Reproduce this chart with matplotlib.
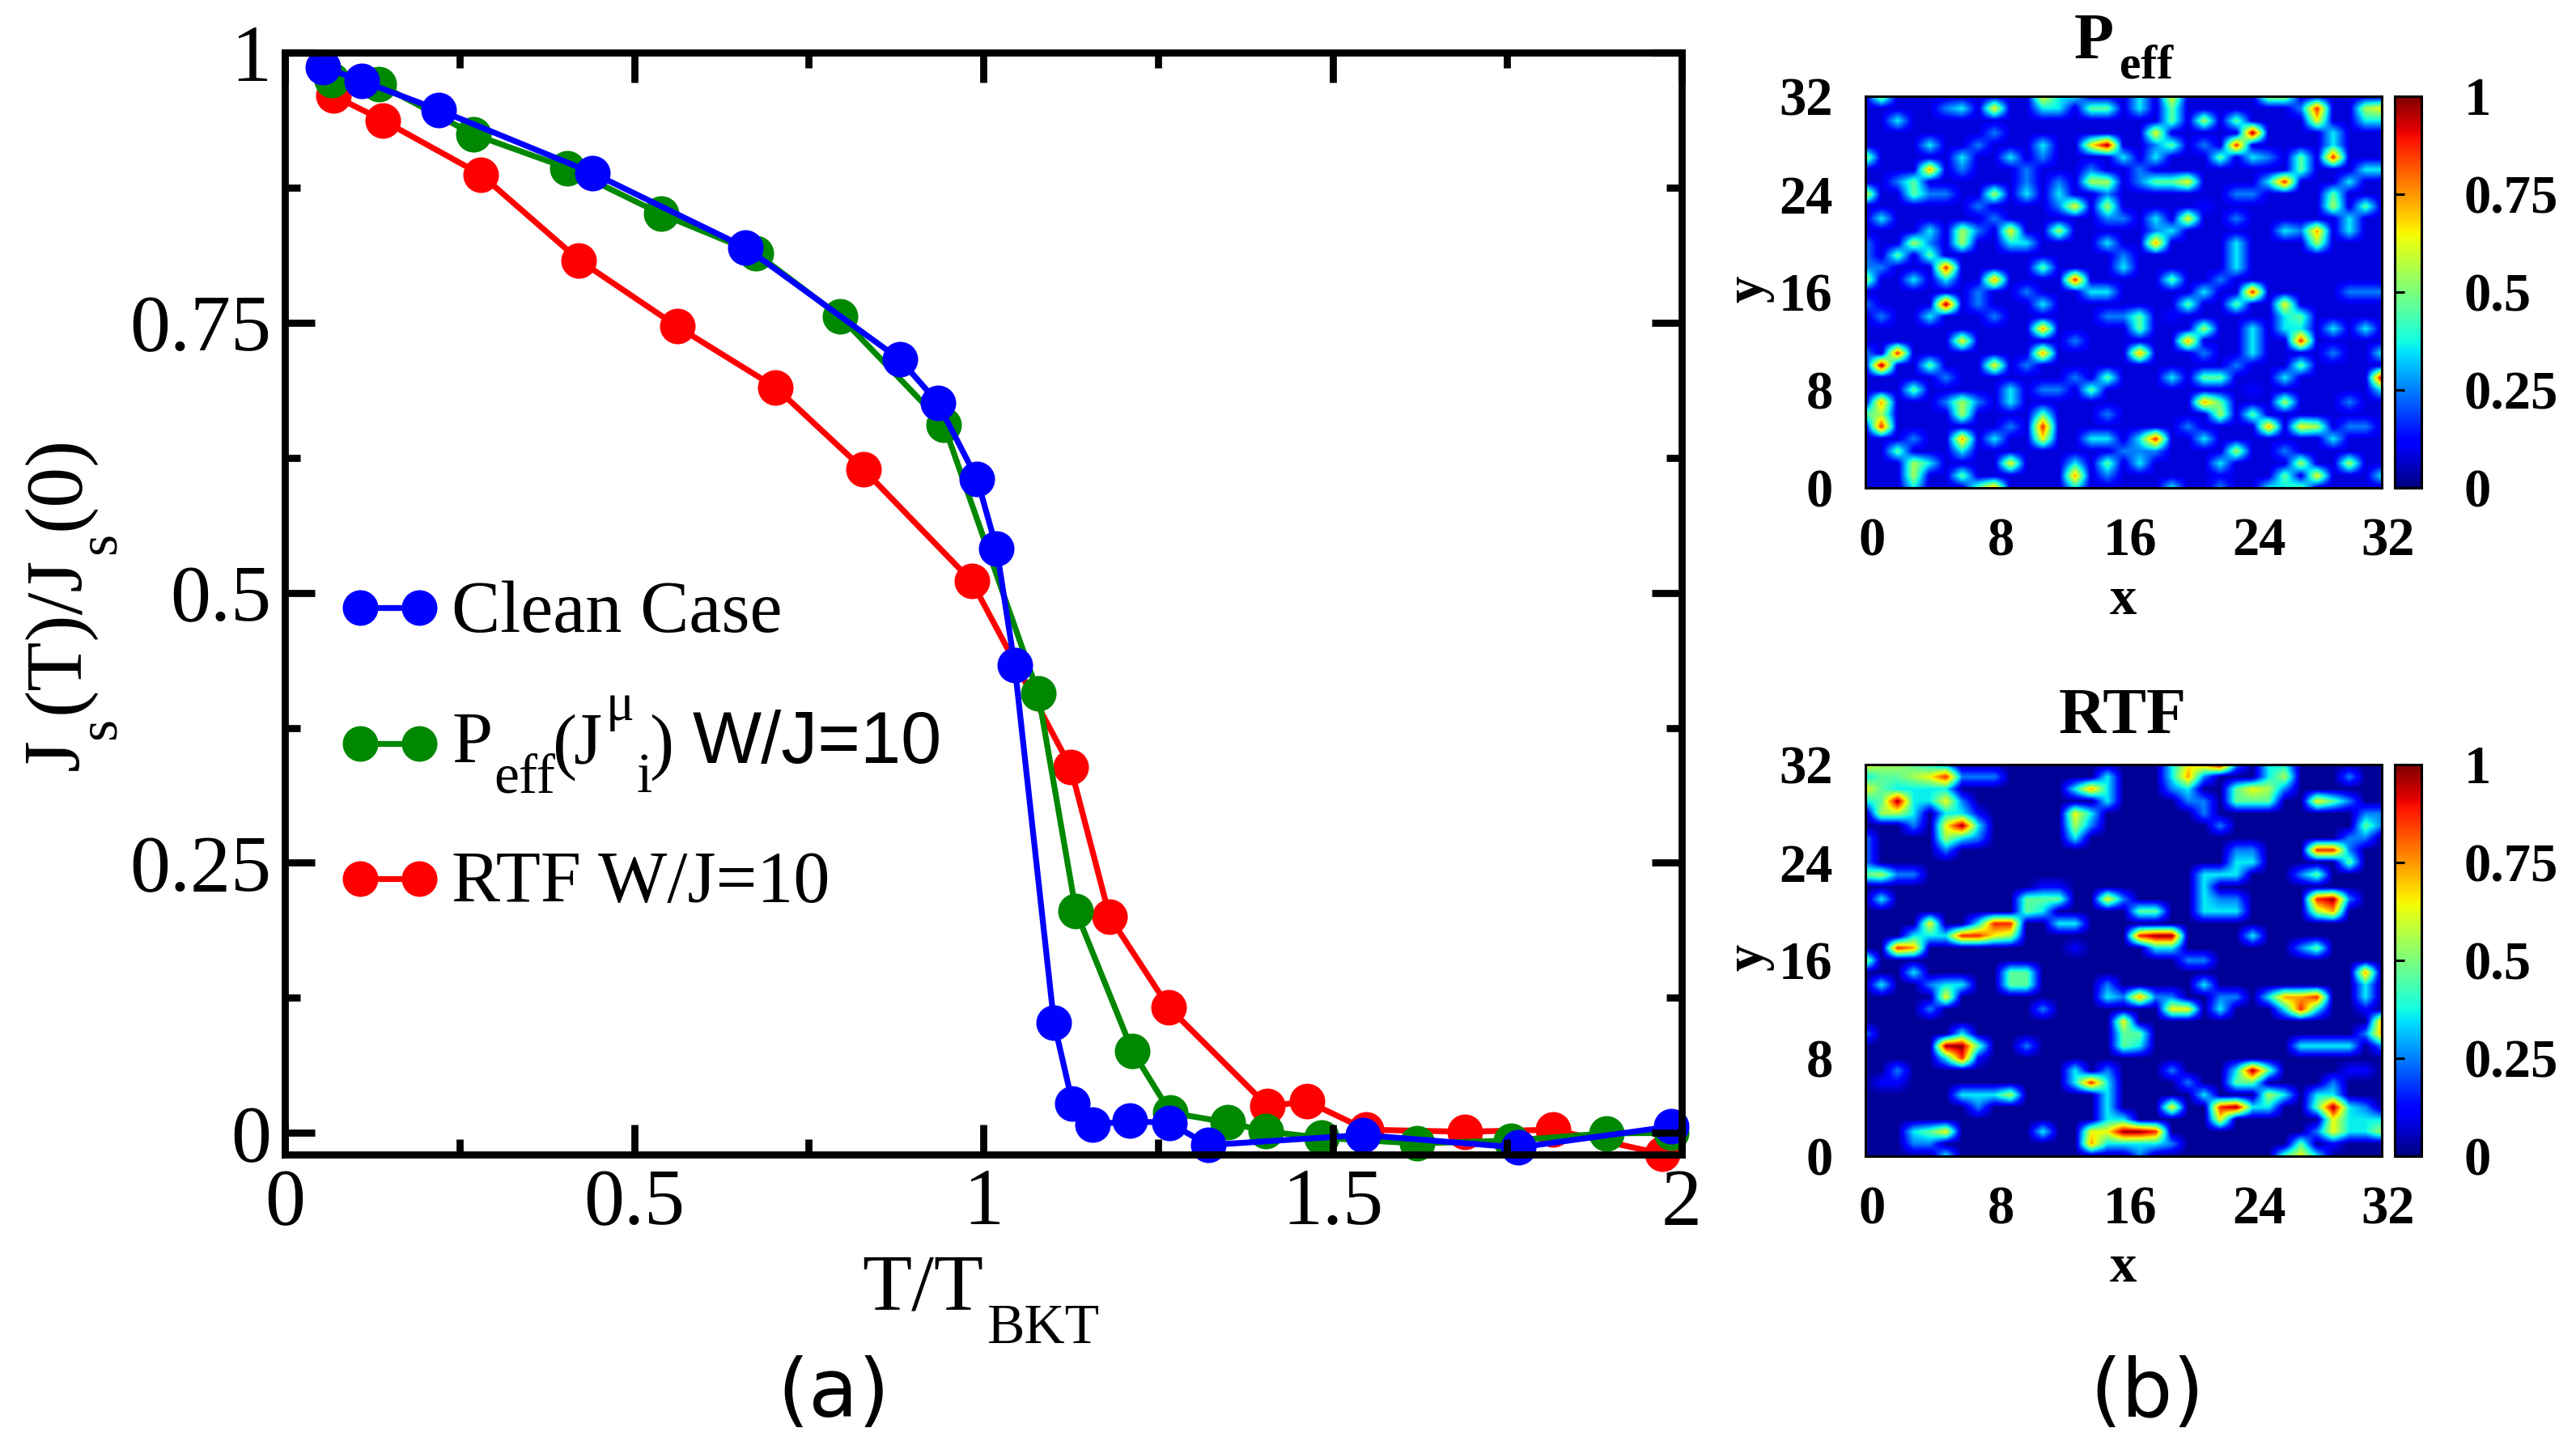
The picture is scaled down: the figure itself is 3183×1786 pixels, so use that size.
"""Superfluid stiffness vs T/T_BKT (a) and local maps of P_eff and RTF (b)."""
import numpy as np
import matplotlib
matplotlib.use("Agg")
import matplotlib.pyplot as plt
from matplotlib.ticker import FixedLocator, FixedFormatter
from matplotlib.transforms import ScaledTranslation

plt.rcParams["font.family"] = ["Liberation Serif", "DejaVu Sans"]

clean_x = [.0544, .1097, .2197, .4401, .6590, .8810, .9346, .9913, 1.0191, 1.0449,
           1.1013, 1.1280, 1.1569, 1.2102, 1.2669, 1.3225, 1.5437, 1.7661, 1.9850]
clean_y = [.9868, .9738, .9471, .8887, .8198, .7158, .6761, .6050, .5406, .4329,
           .1018, .0269, .0075, .0112, .0090, -.0112, -.0019, -.0135, .0060]
peff_x = [.0672, .1347, .2698, .4042, .5388, .6740, .7952, .9435, 1.0785, 1.1326,
          1.2137, 1.2681, 1.3503, 1.4047, 1.4846, 1.6213, 1.7556, 1.8923, 1.985]
peff_y = [.9746, .9708, .9244, .8932, .8506, .8146, .7555, .6557, .4072, .2053,
          .0756, .0187, .0097, .0015, -.0045, -.0097, -.007, -.0004, 0.0]
rtf_x = [.0695, .1401, .2806, .4212, .5617, .7026, .8288, .9832, 1.1249, 1.1809,
         1.2658, 1.4071, 1.4638, 1.5483, 1.6896, 1.8159, 1.9722]
rtf_y = [.9603, .9374, .8872, .8079, .7465, .6901, .6140, .5108, .3386, .2001,
         .1160, .0247, .0292, .0030, .0011, .0030, -.0195]

x_major = [0, .5, 1, 1.5, 2]
x_minor = [.25, .75, 1.25, 1.75]
x_labels = ["0", "0.5", "1", "1.5", "2"]
y_major = [0, .25, .5, .75, 1]
y_minor = [.125, .375, .625, .875]
y_labels = ["0", "0.25", "0.5", "0.75", "1"]
map_ticks = [0, 8, 16, 24, 32]
bar_ticks = [0, .25, .5, .75, 1]
bar_labels = ["0", "0.25", "0.5", "0.75", "1"]

# colour classes -> value on the jet bar:
# navy, blue, azure, cyan, teal, yellow-green, yellow, orange, red, dark red
LEVEL_VALUES = [0.0, 0.12, 0.25, 0.36, 0.46, 0.55, 0.64, 0.74, 0.87, 0.98]

# maps: for each row from y=32 down to y=0, (column, colour class)
P_EFF_LEVELS = [
    [(1,5),(11,6),(12,3),(13,3),(17,3),(19,6),(25,5),(26,5)],
    [(5,2),(6,3),(8,6),(11,3),(12,3),(14,4),(15,4),(17,3),(19,4),(27,2),(28,8),(31,5),(32,6)],
    [(2,3),(19,4),(21,5),(23,4),(28,6),(31,3),(32,3)],
    [(8,2),(18,6),(24,9),(29,3)],
    [(4,3),(7,2),(11,3),(14,6),(15,9),(18,2),(19,4),(21,2),(23,8),(29,3)],
    [(0,5),(6,3),(9,3),(11,2),(16,3),(18,3),(22,4),(24,3),(25,2),(27,4),(29,8)],
    [(4,7),(6,2),(10,2),(14,2),(17,2),(27,4),(31,3),(32,3)],
    [(2,2),(3,4),(10,2),(12,2),(14,5),(15,5),(17,2),(18,4),(19,4),(20,6),(25,3),(26,8),(30,3)],
    [(0,6),(3,4),(4,2),(5,2),(8,5),(10,3),(12,3),(15,2),(23,2),(24,2),(29,4)],
    [(7,2),(12,2),(13,6),(15,5),(21,1),(29,5),(31,4)],
    [(1,3),(8,2),(15,2),(16,2),(18,3),(20,6),(23,2),(30,3)],
    [(4,3),(6,5),(7,2),(9,6),(12,5),(18,2),(19,3),(26,3),(27,2),(28,7),(30,3)],
    [(0,2),(3,5),(4,2),(6,5),(9,3),(10,3),(15,3),(18,7),(23,3),(28,5)],
    [(0,2),(2,4),(4,4),(16,2),(23,3)],
    [(0,2),(1,2),(5,8),(11,4),(16,3),(23,3)],
    [(0,5),(3,3),(5,3),(8,7),(13,8),(19,4),(22,2)],
    [(7,2),(10,2),(14,3),(15,3),(21,3),(24,8),(30,2),(31,2),(32,2)],
    [(0,2),(5,9),(7,2),(11,3),(20,4),(23,4),(26,6)],
    [(1,2),(4,3),(8,2),(15,2),(16,2),(17,4),(19,1),(26,3),(27,4)],
    [(11,7),(17,4),(21,5),(24,3),(26,3),(27,3),(29,3),(31,3)],
    [(6,6),(13,2),(20,7),(24,3),(27,8)],
    [(0,2),(2,8),(11,7),(17,7),(21,2),(24,3),(29,2),(32,3)],
    [(1,9),(4,4),(8,6),(10,2),(23,2),(27,4)],
    [(5,2),(13,2),(15,4),(19,3),(21,4),(22,4),(26,3),(32,9)],
    [(3,4),(9,3),(11,2),(12,2),(14,4),(24,1),(32,3)],
    [(1,7),(5,2),(6,5),(7,2),(9,3),(21,7),(22,4),(26,5),(30,2)],
    [(0,4),(1,5),(6,5),(11,4),(15,2),(22,5),(24,4)],
    [(1,8),(9,2),(11,8),(20,2),(25,7),(27,6),(28,5),(30,2),(31,2)],
    [(3,2),(6,7),(8,3),(11,6),(14,3),(15,3),(17,3),(18,8),(21,3),(29,3)],
    [(2,4),(6,3),(16,2),(17,2),(18,2),(23,5),(26,2)],
    [(3,5),(4,3),(9,6),(13,3),(15,4),(17,3),(22,3),(27,5),(30,5)],
    [(3,5),(6,4),(13,7),(15,2),(22,1),(26,4),(28,6),(32,3)],
    [(3,3),(7,4),(8,7),(13,3),(19,3),(22,2),(25,3),(26,3),(27,4)],
]
RTF_LEVELS = [
    [(0,6),(1,5),(2,5),(3,4),(4,3),(5,2),(19,3),(20,6),(21,7),(22,9),(23,2),(25,3),(26,3)],
    [(0,3),(1,4),(2,4),(3,5),(4,6),(5,8),(6,2),(7,2),(8,2),(15,3),(19,3),(20,7),(21,2),(25,3),(26,5),(30,2)],
    [(0,6),(1,4),(2,3),(3,3),(4,3),(5,3),(13,3),(14,7),(15,3),(19,2),(20,3),(23,4),(24,6),(25,5),(26,2)],
    [(0,3),(1,4),(2,9),(3,3),(4,3),(5,6),(6,2),(15,3),(20,2),(21,2),(23,4),(24,4),(25,4),(28,6),(29,4),(30,2)],
    [(1,5),(2,5),(3,3),(5,3),(6,3),(7,1),(13,6),(14,3),(21,2),(31,2),(32,2)],
    [(3,2),(5,6),(6,9),(7,3),(13,5),(14,2),(22,2),(31,4),(32,2)],
    [(0,2),(5,5),(6,3),(7,2),(13,3),(30,2),(31,2)],
    [(0,2),(5,2),(23,2),(24,2),(28,8),(29,8),(30,2)],
    [(0,2),(23,3),(24,3),(30,4)],
    [(0,4),(1,5),(2,2),(3,2),(21,3),(22,3),(23,3),(27,2),(28,4)],
    [(11,1),(12,1),(21,3)],
    [(1,3),(10,4),(11,4),(12,4),(15,6),(16,2),(21,3),(22,2),(23,2),(28,8),(29,9),(30,2)],
    [(10,4),(11,3),(17,4),(18,4),(21,3),(22,3),(23,3),(28,5),(29,7)],
    [(4,6),(7,3),(8,8),(9,8),(12,3),(13,3)],
    [(3,3),(4,3),(5,3),(6,8),(7,8),(8,6),(9,5),(17,8),(18,9),(19,9),(24,3)],
    [(2,8),(3,7),(13,1),(18,3),(19,3),(27,2),(28,4)],
    [(0,5),(20,2),(21,2)],
    [(3,3),(9,4),(10,4),(31,7)],
    [(1,3),(4,2),(5,3),(6,3),(9,4),(10,4),(15,2),(21,3),(31,3)],
    [(5,6),(15,3),(16,2),(17,7),(18,2),(19,2),(22,2),(23,2),(25,3),(26,7),(27,7),(28,8),(31,3)],
    [(4,2),(11,2),(19,6),(20,6),(22,3),(26,3),(27,8),(28,3),(31,1)],
    [(16,6),(32,7)],
    [(0,2),(6,3),(16,4),(17,4),(31,2),(32,7)],
    [(5,9),(6,9),(7,4),(10,2),(16,4),(17,3),(27,3),(28,3),(29,3),(30,3),(32,2)],
    [(5,3),(6,8),(7,1)],
    [(2,2),(13,3),(15,2),(19,2),(23,3),(24,9),(25,4),(30,1),(31,1)],
    [(1,1),(2,1),(13,3),(14,8),(15,3),(20,2),(23,4),(24,4),(29,2)],
    [(6,3),(7,3),(8,3),(9,5),(15,3),(21,3),(25,5),(26,3),(28,3),(29,3)],
    [(7,2),(15,3),(19,6),(22,8),(23,9),(24,3),(25,3),(28,4),(29,9),(30,3),(31,2)],
    [(15,3),(16,3),(22,6),(29,6),(30,3),(31,3),(32,3)],
    [(3,3),(4,4),(5,6),(11,3),(14,6),(15,6),(16,9),(17,9),(18,8),(28,2),(29,6),(30,3),(31,3),(32,5)],
    [(3,2),(4,2),(14,7),(15,3),(16,3),(17,3),(18,3),(19,2),(27,4),(29,1)],
    [(5,3),(17,2),(26,4),(27,6),(28,3)],
]
P_EFF_BACKGROUND = 0.08
RTF_BACKGROUND = 0.02

W, H = 3183, 1786


def px_axes(fig, left, top, right, bottom):
    return fig.add_axes([left / W, 1 - bottom / H, (right - left) / W, (bottom - top) / H])


def levels_to_grid(rows, background):
    grid = np.full((33, 33), background)
    for r, row in enumerate(rows):
        for c, level in row:
            grid[r, c] = LEVEL_VALUES[level]
    return grid


def put(x, y, s, size, rotation=0, **kw):
    # text with its baseline start at a pixel position, for the hand-set sub/superscripts
    fig.text(x / W, 1 - y / H, s, fontsize=size, ha="left", va="baseline",
             rotation=rotation, rotation_mode="anchor", **kw)


fig = plt.figure(figsize=(W / 100, H / 100), dpi=100)

# (a)
ax = px_axes(fig, 352, 65, 2078, 1427)
lw, ms = 5.2, 31.7
ax.plot(rtf_x, rtf_y, "-o", color="#ff0000", lw=lw, ms=ms, mew=0, clip_on=False)
ax.plot(peff_x, peff_y, "-o", color="#008800", lw=lw, ms=ms, mew=0, clip_on=False)
ax.plot(clean_x, clean_y, "-o", color="#0000ff", lw=lw, ms=ms, mew=0, clip_on=False)
ax.set_xlim(0, 2)
ax.set_ylim(-0.02, 1)
ax.set_axisbelow(False)
ax.xaxis.set_major_locator(FixedLocator(x_major))
ax.xaxis.set_major_formatter(FixedFormatter(x_labels))
ax.xaxis.set_minor_locator(FixedLocator(x_minor))
ax.yaxis.set_major_locator(FixedLocator(y_major))
ax.yaxis.set_major_formatter(FixedFormatter(y_labels))
ax.yaxis.set_minor_locator(FixedLocator(y_minor))
ax.tick_params(which="major", direction="in", length=26.6, width=6.3, top=True, right=True,
               labelsize=72, pad=12)
ax.tick_params(which="minor", direction="in", length=13.9, width=6.3, top=True, right=True)
for s in ax.spines.values():
    s.set_linewidth(6.3)

# axis titles, with the low subscripts of the original
put(1065, 1619, "T/T", 72)
put(1220, 1660, "BKT", 50)
put(96, 952, "J", 72, rotation=90)
put(142, 914, "s", 50, rotation=90)
put(96, 882, "(T)/J", 72, rotation=90)
put(142, 685, "s", 50, rotation=90)
put(96, 655, "(0)", 72, rotation=90)

# legend keys; the entries are set by hand because of the subscripts
lines = ax.get_lines()
leg = ax.legend([lines[2], lines[1], lines[0]], ["", "", ""], loc="center left",
                bbox_to_anchor=((418 - 352) / (2078 - 352), 1 - (928 - 65) / (1427 - 65)),
                frameon=False, fontsize=65, numpoints=2, handlelength=1.41, handletextpad=0,
                labelspacing=0.945, borderpad=0, borderaxespad=0)
put(558, 781, "Clean Case", 65)
put(558, 943, "P", 65)
put(610, 979, "eff", 50)
put(683, 946, "(", 65)
put(708, 943, "J", 65)
put(749, 890, "\u03bc", 47)
put(786, 979, "i", 50)
put(802, 946, ")", 65)
put(856, 943, "W/J=10", 65, family="Liberation Sans")
put(558, 1115, "RTF W/J=10", 65)

fig.text(1030 / W, 1 - 1724 / H, "(a)", family="DejaVu Sans", fontsize=72, ha="center", va="center")
fig.text(2653 / W, 1 - 1724 / H, "(b)", family="DejaVu Sans", fontsize=72, ha="center", va="center")

# (b)
panels = [
    (levels_to_grid(P_EFF_LEVELS, P_EFF_BACKGROUND), 119),
    (levels_to_grid(RTF_LEVELS, RTF_BACKGROUND), 945),
]
xshift = ScaledTranslation(8 / 100, 0, fig.dpi_scale_trans)
for grid, top in panels:
    bottom = top + 484
    m = px_axes(fig, 2305, top, 2943, bottom)
    # nodes sit on integer coordinates, so the outer half cell is cut by the limits
    im = m.imshow(grid, cmap="jet", vmin=0, vmax=1, interpolation="bilinear", aspect="auto",
                  extent=(-0.5, 32.5, -0.5, 32.5), origin="upper")
    m.set_xlim(0, 32)
    m.set_ylim(0, 32)
    m.set_xticks(map_ticks)
    m.set_yticks(map_ticks)
    m.tick_params(length=0, labelsize=48, pad=0)
    m.tick_params(axis="x", pad=26)
    m.tick_params(axis="y", pad=29)
    for lab in m.get_xticklabels() + m.get_yticklabels():
        lab.set_fontweight("bold")
    for lab in m.get_xticklabels():
        lab.set_transform(lab.get_transform() + xshift)
    for s in m.spines.values():
        s.set_linewidth(2.2)
    m.set_xlabel("x", fontsize=48, fontweight="bold")
    m.set_ylabel("y", fontsize=48, fontweight="bold")
    m.xaxis.set_label_coords(2623 / W, 1 - (bottom + 139) / H, transform=fig.transFigure)
    m.xaxis.label.set_va("center")
    m.yaxis.set_label_coords(2162 / W, 1 - (top + 238) / H, transform=fig.transFigure)
    m.yaxis.label.set_va("center")

    cax = px_axes(fig, 2959, top, 2992, bottom)
    cb = fig.colorbar(im, cax=cax)
    cb.set_ticks(bar_ticks)
    cb.set_ticklabels(bar_labels)
    cax.tick_params(left=True, right=False, labelleft=False, labelright=True, direction="in",
                    length=8.5, width=2.2, labelsize=48, pad=38)
    for lab in cax.get_yticklabels():
        lab.set_fontweight("bold")
    cb.outline.set_linewidth(2.2)

put(2563, 72, "P", 58, fontweight="bold")
put(2619, 97, "eff", 43, fontweight="bold")
fig.text(2623 / W, 1 - 887 / H, "RTF", fontsize=58, fontweight="bold", ha="center", va="center")

fig.savefig("out.png", dpi=100, facecolor="white")
